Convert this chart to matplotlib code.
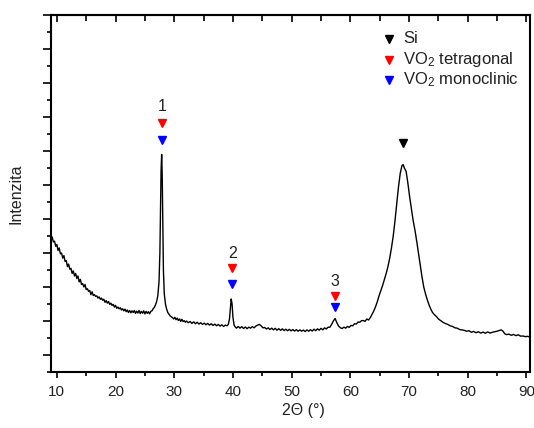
#!/usr/bin/python3

import matplotlib
matplotlib.use("Agg")
import matplotlib.pyplot as plt
from matplotlib.ticker import MultipleLocator, NullFormatter

# 2theta (deg) and intensity (arbitrary units)
two_theta = [
    9.0, 9.2, 9.4, 9.6, 9.8, 10.0, 10.2, 10.4, 10.6, 10.8, 11.0, 11.2, 11.4, 11.6, 11.8,
    12.0, 12.2, 12.4, 12.6, 12.8, 13.0, 13.2, 13.4, 13.6, 13.8, 14.0, 14.2, 14.4, 14.6, 14.8,
    15.0, 15.2, 15.4, 15.6, 15.8, 16.0, 16.2, 16.4, 16.6, 16.8, 17.0, 17.2, 17.4, 17.6, 17.8,
    18.0, 18.2, 18.4, 18.6, 18.8, 19.0, 19.2, 19.4, 19.6, 19.8, 20.0, 20.2, 20.4, 20.6, 20.8,
    21.0, 21.2, 21.4, 21.6, 21.8, 22.0, 22.2, 22.4, 22.6, 22.8, 23.0, 23.2, 23.4, 23.6, 23.8,
    24.0, 24.2, 24.4, 24.6, 24.8, 25.0, 25.2, 25.4, 25.6, 25.8, 26.0, 26.2, 26.4, 26.6, 26.8,
    27.0, 27.2, 27.4, 27.55, 27.65, 27.75, 27.85, 27.95, 28.05, 28.15, 28.3, 28.5, 28.7, 28.9,
    29.1, 29.3, 29.5, 29.7, 29.9, 30.1, 30.3, 30.5, 30.7, 30.9, 31.1, 31.3, 31.5, 31.7, 31.9,
    32.1, 32.4, 32.7, 33.0, 33.3, 33.6, 33.9, 34.2, 34.5, 34.8, 35.1, 35.4, 35.7, 36.0, 36.3,
    36.6, 36.9, 37.2, 37.5, 37.8, 38.1, 38.4, 38.7, 39.0, 39.2, 39.4, 39.55, 39.7, 39.85, 40.0,
    40.2, 40.4, 40.6, 40.9, 41.2, 41.5, 41.8, 42.1, 42.4, 42.7, 43.0, 43.3, 43.6, 43.9, 44.2,
    44.5, 44.8, 45.1, 45.4, 45.7, 46.0, 46.3, 46.6, 46.9, 47.2, 47.5, 47.8, 48.1, 48.4, 48.7,
    49.0, 49.3, 49.6, 49.9, 50.2, 50.5, 50.8, 51.1, 51.4, 51.7, 52.0, 52.3, 52.6, 52.9, 53.2,
    53.5, 53.8, 54.1, 54.4, 54.7, 55.0, 55.3, 55.6, 55.9, 56.2, 56.5, 56.8, 57.1, 57.4, 57.7,
    58.0, 58.3, 58.6, 58.9, 59.2, 59.5, 59.8, 60.1, 60.4, 60.7, 61.0, 61.3, 61.6, 61.9, 62.2,
    62.5, 62.8, 63.1, 63.4, 63.7, 64.0, 64.3, 64.6, 64.9, 65.2, 65.5, 65.8, 66.1, 66.4, 66.7,
    67.0, 67.3, 67.6, 67.9, 68.2, 68.5, 68.8, 69.0, 69.2, 69.5, 69.8, 70.1, 70.4, 70.7, 71.0,
    71.3, 71.6, 71.9, 72.2, 72.5, 72.8, 73.1, 73.4, 73.7, 74.0, 74.3, 74.7, 75.0, 75.4, 75.8,
    76.2, 76.6, 77.0, 77.4, 77.8, 78.2, 78.6, 79.0, 79.4, 79.8, 80.2, 80.6, 81.0, 81.4, 81.8,
    82.2, 82.6, 83.0, 83.4, 83.8, 84.2, 84.6, 85.0, 85.4, 85.7, 86.0, 86.3, 86.6, 87.0, 87.4,
    87.8, 88.2, 88.6, 89.0, 89.4, 89.8, 90.2, 90.6,
]
intensity = [
    6.75, 6.95, 6.65, 6.7, 6.4, 6.5, 6.15, 6.3, 5.95, 6.0, 5.7, 5.85, 5.5, 5.55, 5.2,
    5.35, 5.05, 5.1, 4.8, 4.95, 4.65, 4.8, 4.5, 4.65, 4.3, 4.45, 4.15, 4.2, 4.0, 4.15,
    3.85, 3.9, 3.75, 3.8, 3.55, 3.72, 3.5, 3.55, 3.45, 3.48, 3.35, 3.42, 3.28, 3.35, 3.22,
    3.28, 3.1, 3.2, 3.05, 3.15, 2.98, 3.05, 2.92, 2.98, 2.82, 2.92, 2.75, 2.82, 2.72, 2.78,
    2.65, 2.72, 2.6, 2.7, 2.55, 2.65, 2.5, 2.62, 2.48, 2.6, 2.5, 2.62, 2.45, 2.58, 2.47,
    2.62, 2.44, 2.57, 2.46, 2.6, 2.42, 2.57, 2.45, 2.55, 2.42, 2.57, 2.6, 2.72, 2.8, 2.95,
    3.15, 3.5, 4.3, 6.0, 8.5, 10.8, 11.8, 10.5, 7.5, 5.0, 3.6, 3.0, 2.7, 2.5,
    2.4, 2.3, 2.25, 2.2, 2.12, 2.22, 2.08, 2.17, 2.03, 2.12, 1.98, 2.1, 1.97, 2.02, 1.93,
    2.0, 1.9, 1.97, 1.86, 1.95, 1.84, 1.93, 1.82, 1.9, 1.8, 1.88, 1.78, 1.86, 1.76, 1.84,
    1.74, 1.82, 1.72, 1.8, 1.7, 1.78, 1.68, 1.76, 1.72, 1.8, 2.1, 2.7, 3.3, 3.0, 2.2,
    1.75, 1.65, 1.58, 1.68, 1.58, 1.67, 1.56, 1.65, 1.55, 1.64, 1.58, 1.67, 1.6, 1.7, 1.76,
    1.8, 1.72, 1.6, 1.62, 1.53, 1.6, 1.5, 1.58, 1.48, 1.57, 1.46, 1.55, 1.45, 1.54, 1.44,
    1.52, 1.43, 1.51, 1.42, 1.5, 1.41, 1.49, 1.4, 1.48, 1.4, 1.47, 1.38, 1.48, 1.4, 1.49,
    1.41, 1.52, 1.43, 1.54, 1.46, 1.57, 1.48, 1.6, 1.53, 1.64, 1.63, 1.8, 2.0, 2.15, 1.9,
    1.7, 1.6, 1.56, 1.64, 1.58, 1.68, 1.63, 1.74, 1.72, 1.84, 1.82, 1.94, 1.93, 2.02, 2.03,
    1.98, 2.12, 2.06, 2.2, 2.4, 2.6, 2.85, 3.15, 3.5, 3.8, 4.1, 4.45, 4.8, 5.2, 5.7,
    6.3, 7.0, 7.9, 8.9, 9.9, 10.7, 11.15, 11.2, 11.0, 10.8, 10.1, 9.3, 8.6, 7.9, 7.35,
    6.7, 6.0, 5.3, 4.6, 4.0, 3.6, 3.25, 2.95, 2.7, 2.5, 2.38, 2.25, 2.12, 2.02, 1.92,
    1.85, 1.8, 1.72, 1.68, 1.6, 1.58, 1.5, 1.48, 1.45, 1.4, 1.43, 1.34, 1.39, 1.31, 1.37,
    1.29, 1.35, 1.28, 1.36, 1.29, 1.34, 1.37, 1.4, 1.45, 1.48, 1.4, 1.25, 1.2, 1.23, 1.16,
    1.21, 1.14, 1.19, 1.11, 1.12, 1.08, 1.1, 1.05,
]

# peak markers: label, position, label height, red / blue marker heights
peak_labels = ["1", "2", "3"]
peak_pos = [27.9, 39.9, 57.4]
label_y = [14.6, 6.0, 4.35]
tetragonal_y = [13.65, 5.1, 3.5]
monoclinic_y = [12.65, 4.2, 2.8]
si_pos = [69.0]
si_y = [12.5]

legend_names = ["Si", "VO$_2$ tetragonal", "VO$_2$ monoclinic"]
legend_colors = ["black", "red", "blue"]

plt.rcParams["font.family"] = ["Liberation Sans", "DejaVu Sans"]
plt.rcParams["mathtext.fontset"] = "custom"
plt.rcParams["mathtext.rm"] = "Liberation Sans"
plt.rcParams["mathtext.default"] = "regular"

text_color = "#222222"

fig = plt.figure(figsize=(5.34, 4.28), dpi=100)
ax = fig.add_axes([0.0955, 0.1308, 0.897, 0.834])

ax.plot(two_theta, intensity, color="black", linewidth=1.0)

for i in range(len(peak_labels)):
    ax.text(peak_pos[i], label_y[i], peak_labels[i], ha="center", va="center",
            fontsize=11.5, color=text_color)
ax.plot(peak_pos, tetragonal_y, linestyle="none", marker="v", color="red", markersize=6)
ax.plot(peak_pos, monoclinic_y, linestyle="none", marker="v", color="blue", markersize=6)
ax.plot(si_pos, si_y, linestyle="none", marker="v", color="black", markersize=6)

# hand-made legend in the upper right
legend_y = [0.933, 0.875, 0.818]
for name, col, ly in zip(legend_names, legend_colors, legend_y):
    ax.plot([0.705], [ly], transform=ax.transAxes, linestyle="none", marker="v",
            color=col, markersize=6)
    ax.text(0.735, ly, name, transform=ax.transAxes, ha="left", va="center",
            fontsize=12, color=text_color)

ax.set_xlim(9, 90.6)
ax.set_ylim(-1, 20)

ax.xaxis.set_major_locator(MultipleLocator(10))
ax.xaxis.set_minor_locator(MultipleLocator(5))
ax.yaxis.set_major_locator(MultipleLocator(2))
ax.yaxis.set_minor_locator(MultipleLocator(1))
ax.yaxis.set_major_formatter(NullFormatter())

ax.tick_params(axis="x", which="major", direction="out", length=4, width=1.2,
               labelsize=11, labelcolor=text_color, pad=5)
ax.tick_params(axis="x", which="minor", direction="out", length=3, width=1.2)
ax.tick_params(axis="y", which="major", direction="out", length=5.5, width=1.2)
ax.tick_params(axis="y", which="minor", direction="out", length=3, width=1.2)

top = ax.secondary_xaxis("top")
top.xaxis.set_major_locator(MultipleLocator(10))
top.xaxis.set_minor_locator(MultipleLocator(5))
top.tick_params(axis="x", which="major", direction="in", length=5, width=1.2,
                labeltop=False)
top.tick_params(axis="x", which="minor", direction="in", length=4, width=1.2)
top.spines["top"].set_linewidth(1.5)

for side in ["left", "right", "bottom", "top"]:
    ax.spines[side].set_linewidth(1.5)

ax.set_xlabel("2\u0398 (\u00b0)", fontsize=11.5, color=text_color)
ax.xaxis.set_label_coords(0.526, -0.088)
ax.set_ylabel("Intenzita", fontsize=11.5, color=text_color)
ax.yaxis.set_label_coords(-0.058, 0.5)

plt.savefig("out.png", dpi=100)
